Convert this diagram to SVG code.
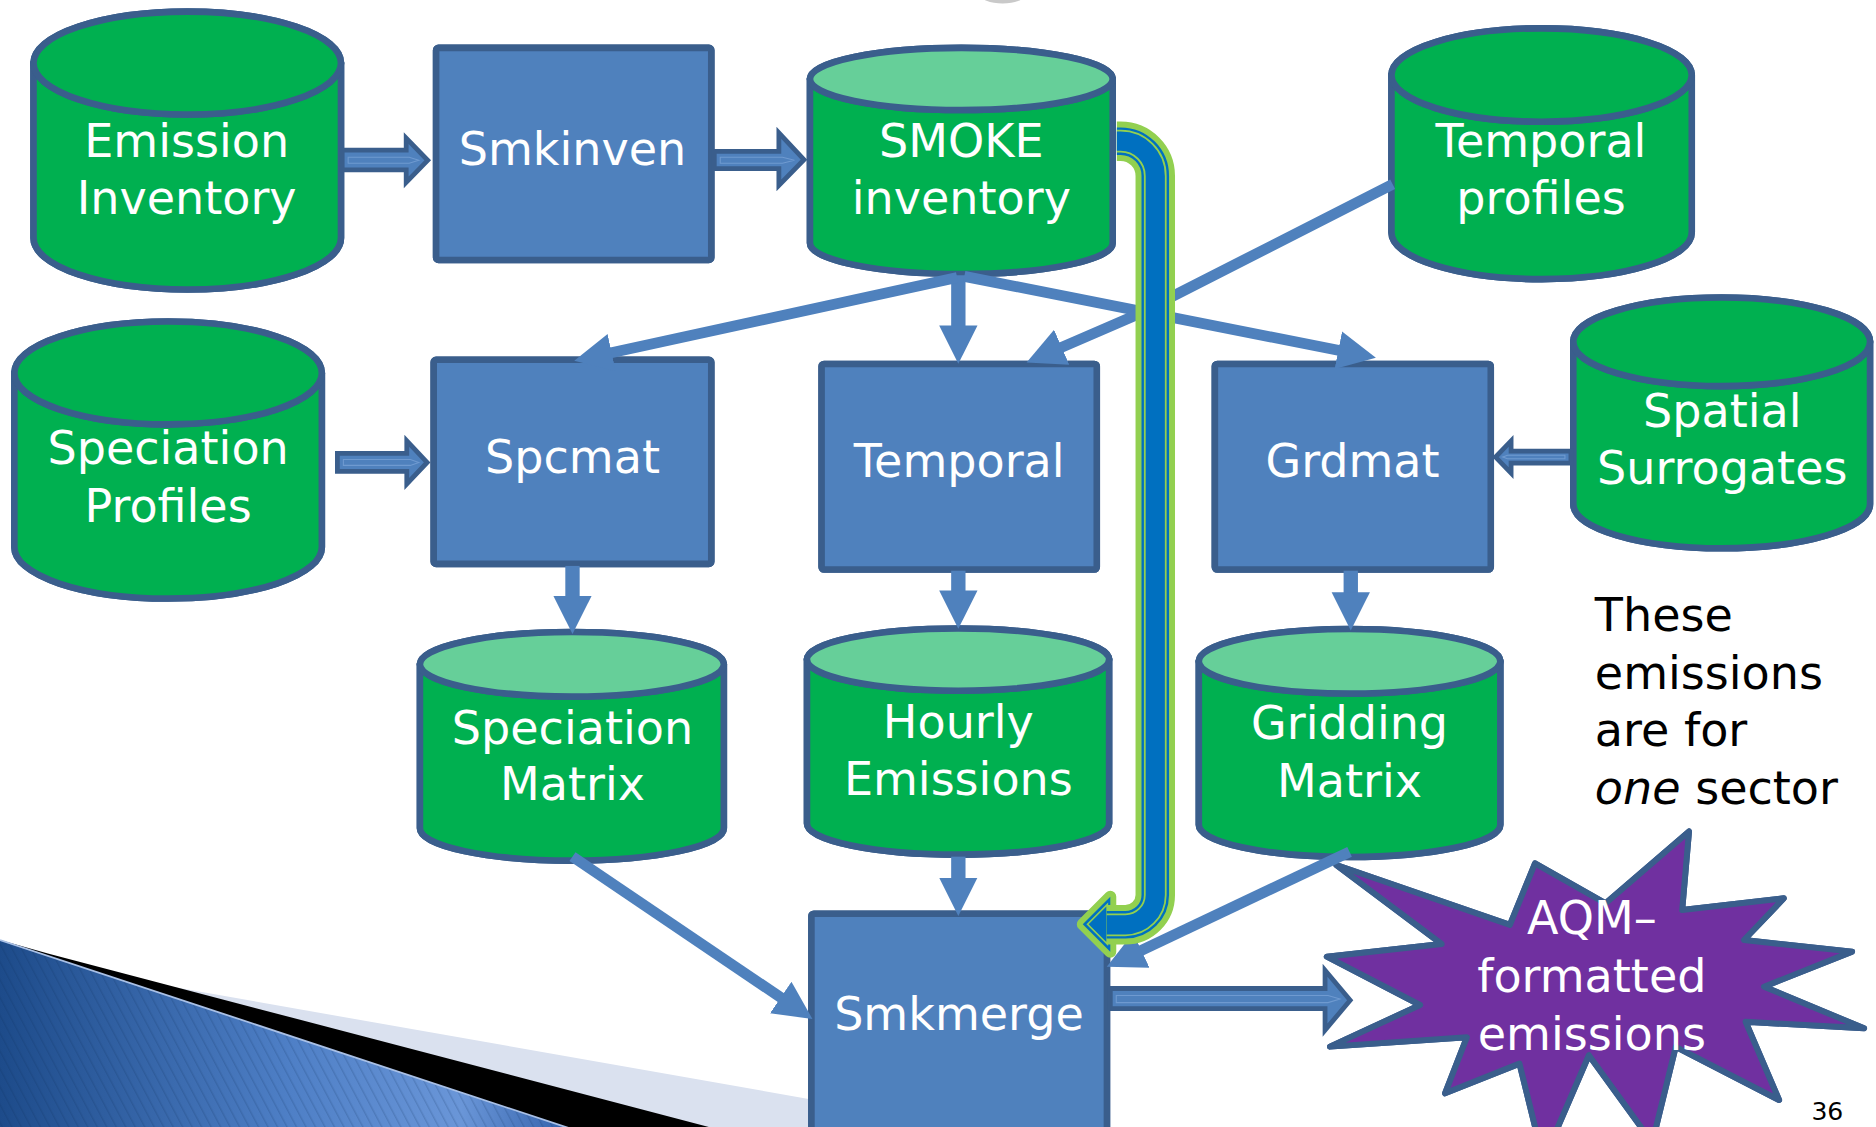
<svg xmlns="http://www.w3.org/2000/svg" width="1876" height="1127" viewBox="0 0 1876 1127">
<defs>
<style>
.cyl{fill:#00B050;stroke:#3A5E8C;stroke-width:5.5;stroke-linejoin:round}
.cap{fill:#00B050;stroke:#3A5E8C;stroke-width:5.5}
.capo{fill:#66CF99;stroke:#3A5E8C;stroke-width:5.5}
.dlg{fill:none;stroke:#00B050;stroke-width:1}
.dlm{fill:none;stroke:#8EE0B6;stroke-width:1}
.box{fill:#4F81BD;stroke:#3A5E8C;stroke-width:5.5}
.dlb{fill:none;stroke:#6F9AD0;stroke-width:1}
.blk{fill:#4F81BD;stroke:#3A5E8C;stroke-width:4;stroke-linejoin:miter}
.blkl{fill:none;stroke:#6F9AD0;stroke-width:0.9}
.conn{fill:none;stroke:#4F81BD;stroke-width:9;marker-end:url(#ah)}
.vconn{fill:none;stroke:#4F81BD;stroke-width:12;marker-end:url(#ah)}
.lbl{font-family:"DejaVu Sans","Liberation Sans",sans-serif;font-size:38.5px;fill:#FFFFFF;text-anchor:middle}
.note{font-family:"DejaVu Sans","Liberation Sans",sans-serif;font-size:38.5px;fill:#000000}
</style>
<marker id="ah" markerUnits="userSpaceOnUse" viewBox="0 -18 34 36" markerWidth="34" markerHeight="36" refX="16" refY="0" orient="auto">
<path d="M0,-16 L32,0 L0,16 Z" fill="#4F81BD"/>
</marker>
<linearGradient id="wedgeGrad" x1="0" y1="0" x2="1" y2="0">
<stop offset="0" stop-color="#1D4B8A"/>
<stop offset="0.5" stop-color="#4E7FC6"/>
<stop offset="0.8" stop-color="#6A96D8"/>
<stop offset="1" stop-color="#2F5EA8"/>
</linearGradient>
<pattern id="stripes" width="7" height="7" patternUnits="userSpaceOnUse" patternTransform="rotate(-28)">
<rect width="1.2" height="7" fill="#0A2A5A" opacity="0.18"/>
</pattern>
</defs>
<rect width="1876" height="1127" fill="#FFFFFF"/>
<g transform="scale(1.19643)">

<!-- decoration -->
<g id="decoration">
<ellipse cx="838" cy="-5" rx="19" ry="8" fill="#C9C9C9"/>
<polygon points="0,799.5 690,921 690,945 0,945" fill="#DAE1EF"/>
<polygon points="0,785.7 40,797 604,945 0,945" fill="#000000"/>
<polygon points="0,785.7 482,945 0,945" fill="url(#wedgeGrad)"/>
<polygon points="0,785.7 482,945 0,945" fill="url(#stripes)"/>
<line x1="0" y1="785.7" x2="482" y2="945" stroke="#A9C0E6" stroke-width="1.5"/>
</g>

<!-- nodes -->
<g id="node-emission-inventory">
<path id="ei-b" class="cyl" d="M28,52.7 V199 A128.5,43 0 0 0 285,199 V52.7 Z"/>
<use href="#ei-b" class="dlg"/>
<ellipse id="ei-t" class="cap" cx="156.5" cy="52.7" rx="128.5" ry="43"/>
<use href="#ei-t" class="dlg"/>
<text class="lbl" x="156" y="131">Emission<tspan x="156" dy="47.5">Inventory</tspan></text>
</g>

<g id="node-smkinven">
<rect id="sk-r" class="box" x="364.5" y="40" width="230" height="177.3" rx="2"/>
<use href="#sk-r" class="dlb"/>
<text class="lbl" x="478.5" y="138">Smkinven</text>
</g>

<g id="node-smoke-inventory">
<path id="si-b" class="cyl" d="M677,66 V203 A126.5,26 0 0 0 930,203 V66 Z"/>
<use href="#si-b" class="dlg"/>
<ellipse id="si-t" class="capo" cx="803.5" cy="66" rx="126.5" ry="26"/>
<use href="#si-t" class="dlm"/>
<text class="lbl" x="803.5" y="131.5">SMOKE<tspan x="803.5" dy="47.5">inventory</tspan></text>
</g>

<g id="node-temporal-profiles">
<path id="tp-b" class="cyl" d="M1163,62.7 V194.3 A125.5,39 0 0 0 1414,194.3 V62.7 Z"/>
<use href="#tp-b" class="dlg"/>
<ellipse id="tp-t" class="cap" cx="1288.5" cy="62.7" rx="125.5" ry="39"/>
<use href="#tp-t" class="dlg"/>
<text class="lbl" x="1288" y="131">Temporal<tspan x="1288" dy="48">profiles</tspan></text>
</g>

<g id="node-speciation-profiles">
<path id="sp-b" class="cyl" d="M12,311.7 V457.3 A128.5,43 0 0 0 269,457.3 V311.7 Z"/>
<use href="#sp-b" class="dlg"/>
<ellipse id="sp-t" class="cap" cx="140.5" cy="311.7" rx="128.5" ry="43"/>
<use href="#sp-t" class="dlg"/>
<text class="lbl" x="140.5" y="388">Speciation<tspan x="140.5" dy="48">Profiles</tspan></text>
</g>

<g id="node-spcmat">
<rect id="sc-r" class="box" x="362.5" y="300.7" width="232" height="170.6" rx="2"/>
<use href="#sc-r" class="dlb"/>
<text class="lbl" x="478.5" y="395.5">Spcmat</text>
</g>

<g id="node-temporal">
<rect id="te-r" class="box" x="686.7" y="304.2" width="230" height="171.8" rx="2"/>
<use href="#te-r" class="dlb"/>
<text class="lbl" x="801.7" y="398.5">Temporal</text>
</g>

<g id="node-grdmat">
<rect id="gr-r" class="box" x="1015.4" y="304.2" width="230.6" height="171.8" rx="2"/>
<use href="#gr-r" class="dlb"/>
<text class="lbl" x="1130.5" y="398.5">Grdmat</text>
</g>

<g id="node-spatial-surrogates">
<path id="ss-b" class="cyl" d="M1315,285.7 V421.3 A124,37 0 0 0 1563,421.3 V285.7 Z"/>
<use href="#ss-b" class="dlg"/>
<ellipse id="ss-t" class="cap" cx="1439" cy="285.7" rx="124" ry="37"/>
<use href="#ss-t" class="dlg"/>
<text class="lbl" x="1439.5" y="357">Spatial<tspan x="1439.5" dy="47.5">Surrogates</tspan></text>
</g>

<g id="node-speciation-matrix">
<path id="sm-b" class="cyl" d="M351,555.2 V692.3 A127,27 0 0 0 605,692.3 V555.2 Z"/>
<use href="#sm-b" class="dlg"/>
<ellipse id="sm-t" class="capo" cx="478" cy="555.2" rx="127" ry="27"/>
<use href="#sm-t" class="dlm"/>
<text class="lbl" x="478.5" y="622">Speciation<tspan x="478.5" dy="47">Matrix</tspan></text>
</g>

<g id="node-hourly-emissions">
<path id="he-b" class="cyl" d="M674.5,551.3 V688.3 A126.25,26 0 0 0 927,688.3 V551.3 Z"/>
<use href="#he-b" class="dlg"/>
<ellipse id="he-t" class="capo" cx="800.75" cy="551.3" rx="126.25" ry="26"/>
<use href="#he-t" class="dlm"/>
<text class="lbl" x="801" y="616.5">Hourly<tspan x="801" dy="48">Emissions</tspan></text>
</g>

<g id="node-gridding-matrix">
<path id="gm-b" class="cyl" d="M1002,552.7 V689.3 A126,27 0 0 0 1254,689.3 V552.7 Z"/>
<use href="#gm-b" class="dlg"/>
<ellipse id="gm-t" class="capo" cx="1128" cy="552.7" rx="126" ry="27"/>
<use href="#gm-t" class="dlm"/>
<text class="lbl" x="1128" y="618">Gridding<tspan x="1128" dy="48">Matrix</tspan></text>
</g>

<g id="node-smkmerge">
<rect id="mg-r" class="box" x="678.2" y="763.7" width="247" height="200" rx="2"/>
<use href="#mg-r" class="dlb"/>
<text class="lbl" x="801.5" y="861">Smkmerge</text>
</g>

<g id="node-aqm-emissions">
<polygon id="aq-s" points="1117,723 1262,773 1283,721.6 1342,755 1411.7,695 1406,760.6 1491,750.8 1457.7,785.7 1548,795.4 1474.4,824.7 1558,859.5 1459,854 1487,919.4 1400.6,875 1381,955 1328,882 1290,970 1270,889 1207.8,913.8 1226,867 1111.6,874.8 1187,840 1109,799.6 1205,789" fill="#7030A0" stroke="#3A5E8C" stroke-width="5" stroke-linejoin="round"/>
<use href="#aq-s" fill="none" stroke="#7030A0" stroke-width="1"/>
<text class="lbl" x="1330.5" y="781">AQM–<tspan x="1330.5" dy="48">formatted</tspan><tspan x="1330.5" dy="48.5">emissions</tspan></text>
</g>

<g id="note-text">
<text class="note" x="1333" y="527">These<tspan x="1333" dy="48.5">emissions</tspan><tspan x="1333" dy="48">are for</tspan><tspan x="1333" dy="48.5" font-style="italic">one</tspan> sector</text>
</g>

<g id="page-number">
<text x="1514" y="936" font-family="'DejaVu Sans','Liberation Sans',sans-serif" font-size="21" fill="#000000">36</text>
</g>

<!-- connectors -->
<g id="connectors">
<polygon class="blk" points="286,125.5 339.5,125.5 339.5,115.5 357.5,134 339.5,152.5 339.5,142 286,142"/>
<polygon class="blkl" points="291,131.5 342,131.5 350,134 342,136.5 291,136.5"/>
<polygon class="blk" points="597,126.5 651,126.5 651,111 672,133.5 651,155 651,141 597,141"/>
<polygon class="blkl" points="602,131.5 654,131.5 664,134 654,136.5 602,136.5"/>
<polygon class="blk" points="282,379 340,379 340,368.5 357,386.5 340,404.5 340,394 282,394"/>
<polygon class="blkl" points="287,384 343,384 350,386.5 343,389 287,389"/>
<polygon class="blk" points="1313,377 1263,377 1263,368.5 1250,382 1263,395.5 1263,387 1313,387"/>
<polygon class="blkl" points="1308,380.5 1260,380.5 1256,382 1260,383.5 1308,383.5"/>
<polygon class="blk" points="928,826.2 1107.5,826.2 1107.5,811 1128.5,836 1107.5,861 1107.5,843 928,843"/>
<polygon class="blkl" points="933,832 1110,832 1120,835 1110,838 933,838"/>

<path class="vconn" d="M801,230 V288"/>
<path class="vconn" d="M478.5,473 V514"/>
<path class="vconn" d="M801,477 V509.5"/>
<path class="vconn" d="M1129,477 V511"/>
<path class="vconn" d="M801,716 V749.6"/>

<path class="conn" d="M800,232 L495.6,298.1"/>
<path class="conn" d="M806,231 L1134.3,295.9"/>
<path class="conn" d="M1164,154 L948,264 L872.7,296.6"/>
<path class="conn" d="M478.5,716 L665.8,842.7"/>
<path class="conn" d="M1128,712 L939.5,801.2"/>

<g id="uturn-arrow">
<polygon points="905,772.5 928,749.5 928,795.5" fill="#92D050" stroke="#92D050" stroke-width="10" stroke-linejoin="round"/>
<polygon points="905,772.5 928,749.5 928,795.5" fill="#0070C0"/>
<polygon points="909,772.5 925.5,756 925.5,789" fill="none" stroke="#92D050" stroke-width="1.4"/>
<path d="M933.5,118 H936.6 A29,29 0 0 1 965.6,147 V748 A25,25 0 0 1 940.6,773 H925" fill="none" stroke="#92D050" stroke-width="33"/>
<path d="M933.5,118 H936.6 A29,29 0 0 1 965.6,147 V748 A25,25 0 0 1 940.6,773 H925" fill="none" stroke="#0070C0" stroke-width="23"/>
<path d="M933.5,118 H936.6 A29,29 0 0 1 965.6,147 V748 A25,25 0 0 1 940.6,773 H925" fill="none" stroke="#92D050" stroke-width="19"/>
<path d="M933.5,118 H936.6 A29,29 0 0 1 965.6,147 V748 A25,25 0 0 1 940.6,773 H925" fill="none" stroke="#0070C0" stroke-width="16"/>
</g>
</g>

</g>
</svg>
